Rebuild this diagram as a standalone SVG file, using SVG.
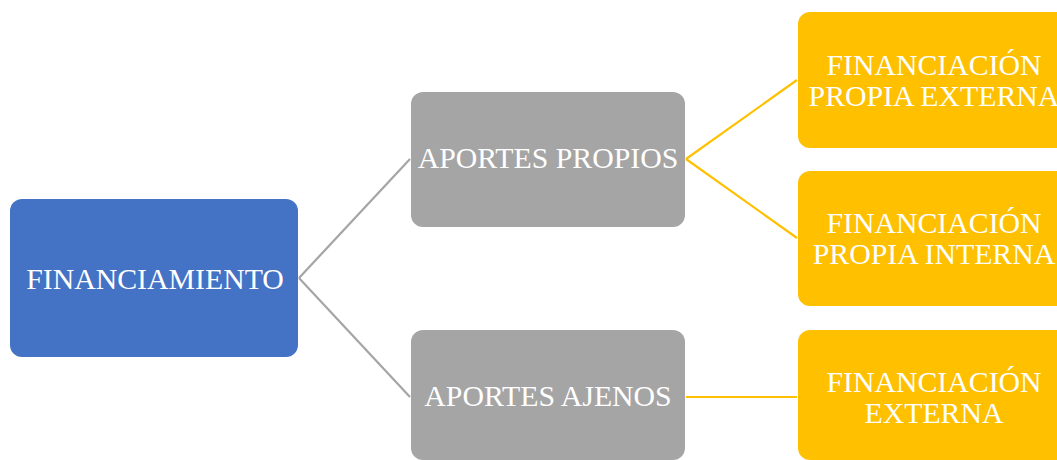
<svg xmlns="http://www.w3.org/2000/svg" width="1057" height="460" viewBox="0 0 1057 460">
<style>
.lbl{font-family:"Liberation Serif","Times New Roman",serif;font-size:29.8px;fill:#ffffff;text-anchor:middle}
.blue{fill:#4472C4}
.gray{fill:#A5A5A5}
.gold{fill:#FFC000}
.cg{stroke:#A5A5A5;stroke-width:2.2;fill:none}
.cy{stroke:#FFC000;stroke-width:2.2;fill:none}
</style>
<rect width="1057" height="460" fill="#ffffff"/>
<g id="connectors">
<path class="cg" d="M299 278 L410 159"/>
<path class="cg" d="M299 278 L410 397"/>
<path class="cy" d="M686 159 L797 80"/>
<path class="cy" d="M686 159 L797 238"/>
<path class="cy" d="M686 397 L797 397"/>
</g>
<g id="financiamiento">
<rect class="blue" x="10" y="199" width="288" height="158" rx="12"/>
<text class="lbl" x="155" y="289">FINANCIAMIENTO</text>
</g>
<g id="aportes-propios">
<rect class="gray" x="411" y="92" width="274" height="135" rx="12"/>
<text class="lbl" x="548" y="168">APORTES PROPIOS</text>
</g>
<g id="aportes-ajenos">
<rect class="gray" x="411" y="330" width="274" height="130" rx="12"/>
<text class="lbl" x="548" y="406">APORTES AJENOS</text>
</g>
<g id="fin-propia-externa">
<rect class="gold" x="798" y="12" width="273" height="136" rx="12"/>
<text class="lbl" x="934" y="75">FINANCIACIÓN</text>
<text class="lbl" x="934" y="106">PROPIA EXTERNA</text>
</g>
<g id="fin-propia-interna">
<rect class="gold" x="798" y="171" width="273" height="135" rx="12"/>
<text class="lbl" x="934" y="233">FINANCIACIÓN</text>
<text class="lbl" x="934" y="264">PROPIA INTERNA</text>
</g>
<g id="fin-externa">
<rect class="gold" x="798" y="330" width="273" height="130" rx="12"/>
<text class="lbl" x="934" y="392">FINANCIACIÓN</text>
<text class="lbl" x="934" y="423">EXTERNA</text>
</g>
</svg>
